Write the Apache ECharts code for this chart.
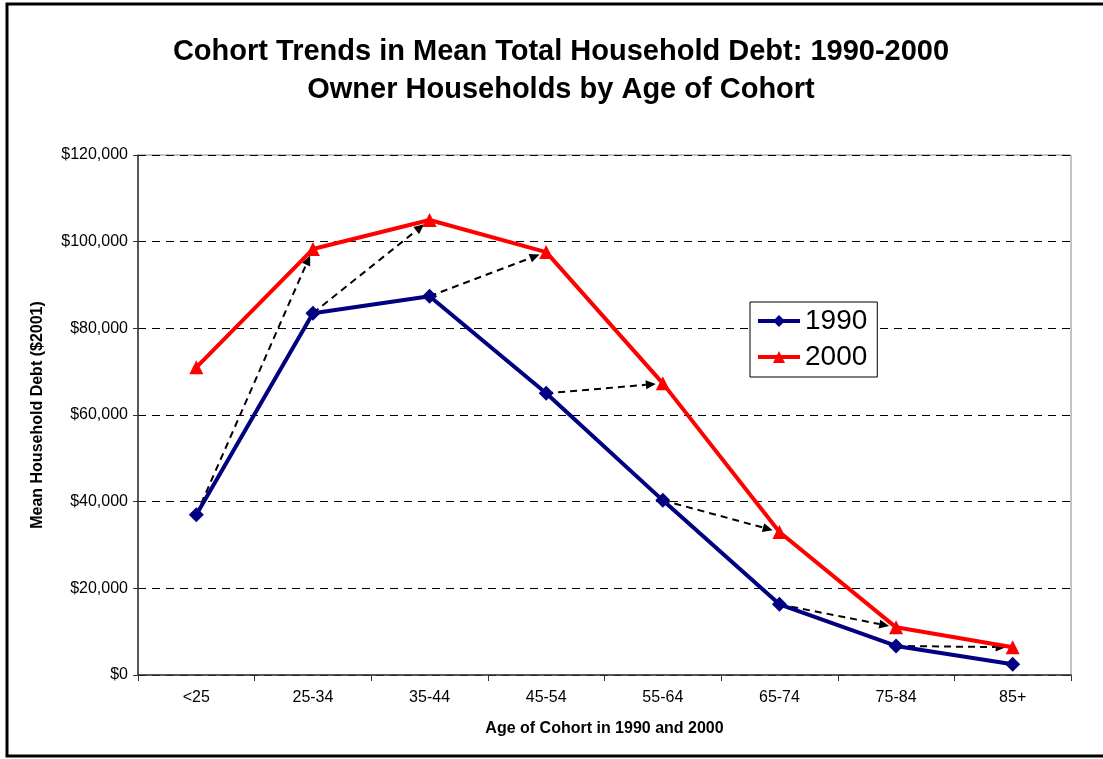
<!DOCTYPE html>
<html>
<head>
<meta charset="utf-8">
<script src="https://cdn.jsdelivr.net/npm/echarts@6/dist/echarts.min.js"></script>
<style>
html,body{margin:0;padding:0;background:#fff;}
#chart{width:1103px;height:759px;}
</style>
</head>
<body>
<div id="chart"></div>
<script>
var categories = ['<25','25-34','35-44','45-54','55-64','65-74','75-84','85+'];
var debt1990 = [37000, 83500, 87400, 65000, 40300, 16300, 6700, 2500];
var debt2000 = [71000, 98300, 105000, 97600, 67300, 33000, 11000, 6400];
var yTicks = [0, 20000, 40000, 60000, 80000, 100000, 120000];
var titleLines = ['Cohort Trends in Mean Total Household Debt: 1990-2000', 'Owner Households by Age of Cohort'];

// cohort arrows: 1990 value at age group i -> 2000 value at age group i+1
var cohortArrows = [];
for (var i = 0; i < categories.length - 1; i++) {
  cohortArrows.push([i, debt1990[i], i + 1, debt2000[i + 1]]);
}

var chart = echarts.init(document.getElementById('chart'));
var FONT = '"Liberation Sans", Arial, sans-serif';

function fmtMoney(v) {
  return '$' + String(v).replace(/\B(?=(\d{3})+(?!\d))/g, ',');
}

var option = {
  animation: false,
  backgroundColor: '#fff',
  textStyle: { fontFamily: FONT },
  graphic: [
    {
      type: 'rect', z: 0,
      shape: { x: 7, y: 4, width: 1110, height: 752 },
      style: { fill: 'none', stroke: '#000', lineWidth: 3 }
    },
    {
      type: 'text', z: 10,
      style: {
        x: 561, y: 33, text: titleLines.join('\n'), textAlign: 'center',
        font: 'bold 29px ' + FONT, fill: '#000', lineHeight: 38
      }
    }
  ],
  legend: {
    orient: 'vertical',
    left: 750, top: 302,
    itemWidth: 42, itemHeight: 15, itemGap: 8,
    padding: [5, 10, 6, 6],
    backgroundColor: '#fff',
    borderColor: '#000', borderWidth: 1,
    lineStyle: { width: 4 },
    textStyle: { fontSize: 28, color: '#000', fontFamily: FONT },
    data: ['1990', '2000']
  },
  grid: {
    left: 138, right: 32, top: 155, bottom: 84,
    show: true, borderColor: '#888', borderWidth: 1, backgroundColor: 'transparent'
  },
  xAxis: {
    type: 'category',
    data: categories,
    boundaryGap: true,
    name: 'Age of Cohort in 1990 and 2000',
    nameLocation: 'middle', nameGap: 46,
    nameTextStyle: { fontWeight: 'bold', fontSize: 16, color: '#000', fontFamily: FONT },
    axisLine: { lineStyle: { color: '#333', width: 1.5 } },
    axisTick: { show: true, inside: false, length: 6, interval: 0, lineStyle: { color: '#333' } },
    axisLabel: { fontSize: 16, color: '#000', margin: 15, interval: 0, fontFamily: FONT },
    splitLine: { show: false }
  },
  yAxis: {
    type: 'value',
    min: 0, max: 120000, interval: 20000,
    name: 'Mean Household Debt ($2001)',
    nameLocation: 'middle', nameGap: 92, nameRotate: 90,
    nameTextStyle: { fontWeight: 'bold', fontSize: 16, color: '#000', fontFamily: FONT },
    axisLine: { show: true, lineStyle: { color: '#333', width: 1.5 } },
    axisTick: { show: true, length: 5, lineStyle: { color: '#333' } },
    axisLabel: {
      fontSize: 16, color: '#000', margin: 10, fontFamily: FONT,
      formatter: function (v) { return yTicks.indexOf(v) >= 0 ? fmtMoney(v) : ''; }
    },
    splitLine: { show: true, lineStyle: { color: '#000', type: [8, 6], width: 1 } }
  },
  series: [
    {
      name: 'arrows',
      type: 'custom',
      z: 1,
      data: cohortArrows,
      encode: { x: [0, 2], y: [1, 3] },
      renderItem: function (params, api) {
        var p1 = api.coord([api.value(0), api.value(1)]);
        var p2 = api.coord([api.value(2), api.value(3)]);
        var dx = p2[0] - p1[0], dy = p2[1] - p1[1];
        var len = Math.sqrt(dx * dx + dy * dy);
        var ux = dx / len, uy = dy / len;
        var tip = [p2[0] - ux * 7, p2[1] - uy * 7];
        var headLen = 10, headW = 4.5;
        var base = [tip[0] - ux * headLen, tip[1] - uy * headLen];
        var nx = -uy, ny = ux;
        return {
          type: 'group',
          children: [
            {
              type: 'line',
              shape: { x1: p1[0], y1: p1[1], x2: base[0], y2: base[1] },
              style: { stroke: '#000', lineWidth: 2, lineDash: [7, 5] }
            },
            {
              type: 'polygon',
              shape: { points: [tip, [base[0] + nx * headW, base[1] + ny * headW], [base[0] - nx * headW, base[1] - ny * headW]] },
              style: { fill: '#000' }
            }
          ]
        };
      }
    },
    {
      name: '1990',
      type: 'line',
      z: 3,
      data: debt1990,
      symbol: 'diamond',
      symbolSize: 15,
      itemStyle: { color: '#000080' },
      lineStyle: { color: '#000080', width: 4 }
    },
    {
      name: '2000',
      type: 'line',
      z: 3,
      data: debt2000,
      symbol: 'triangle',
      symbolSize: 14,
      itemStyle: { color: '#ff0000' },
      lineStyle: { color: '#ff0000', width: 4 }
    }
  ]
};
chart.setOption(option);
</script>
</body>
</html>
